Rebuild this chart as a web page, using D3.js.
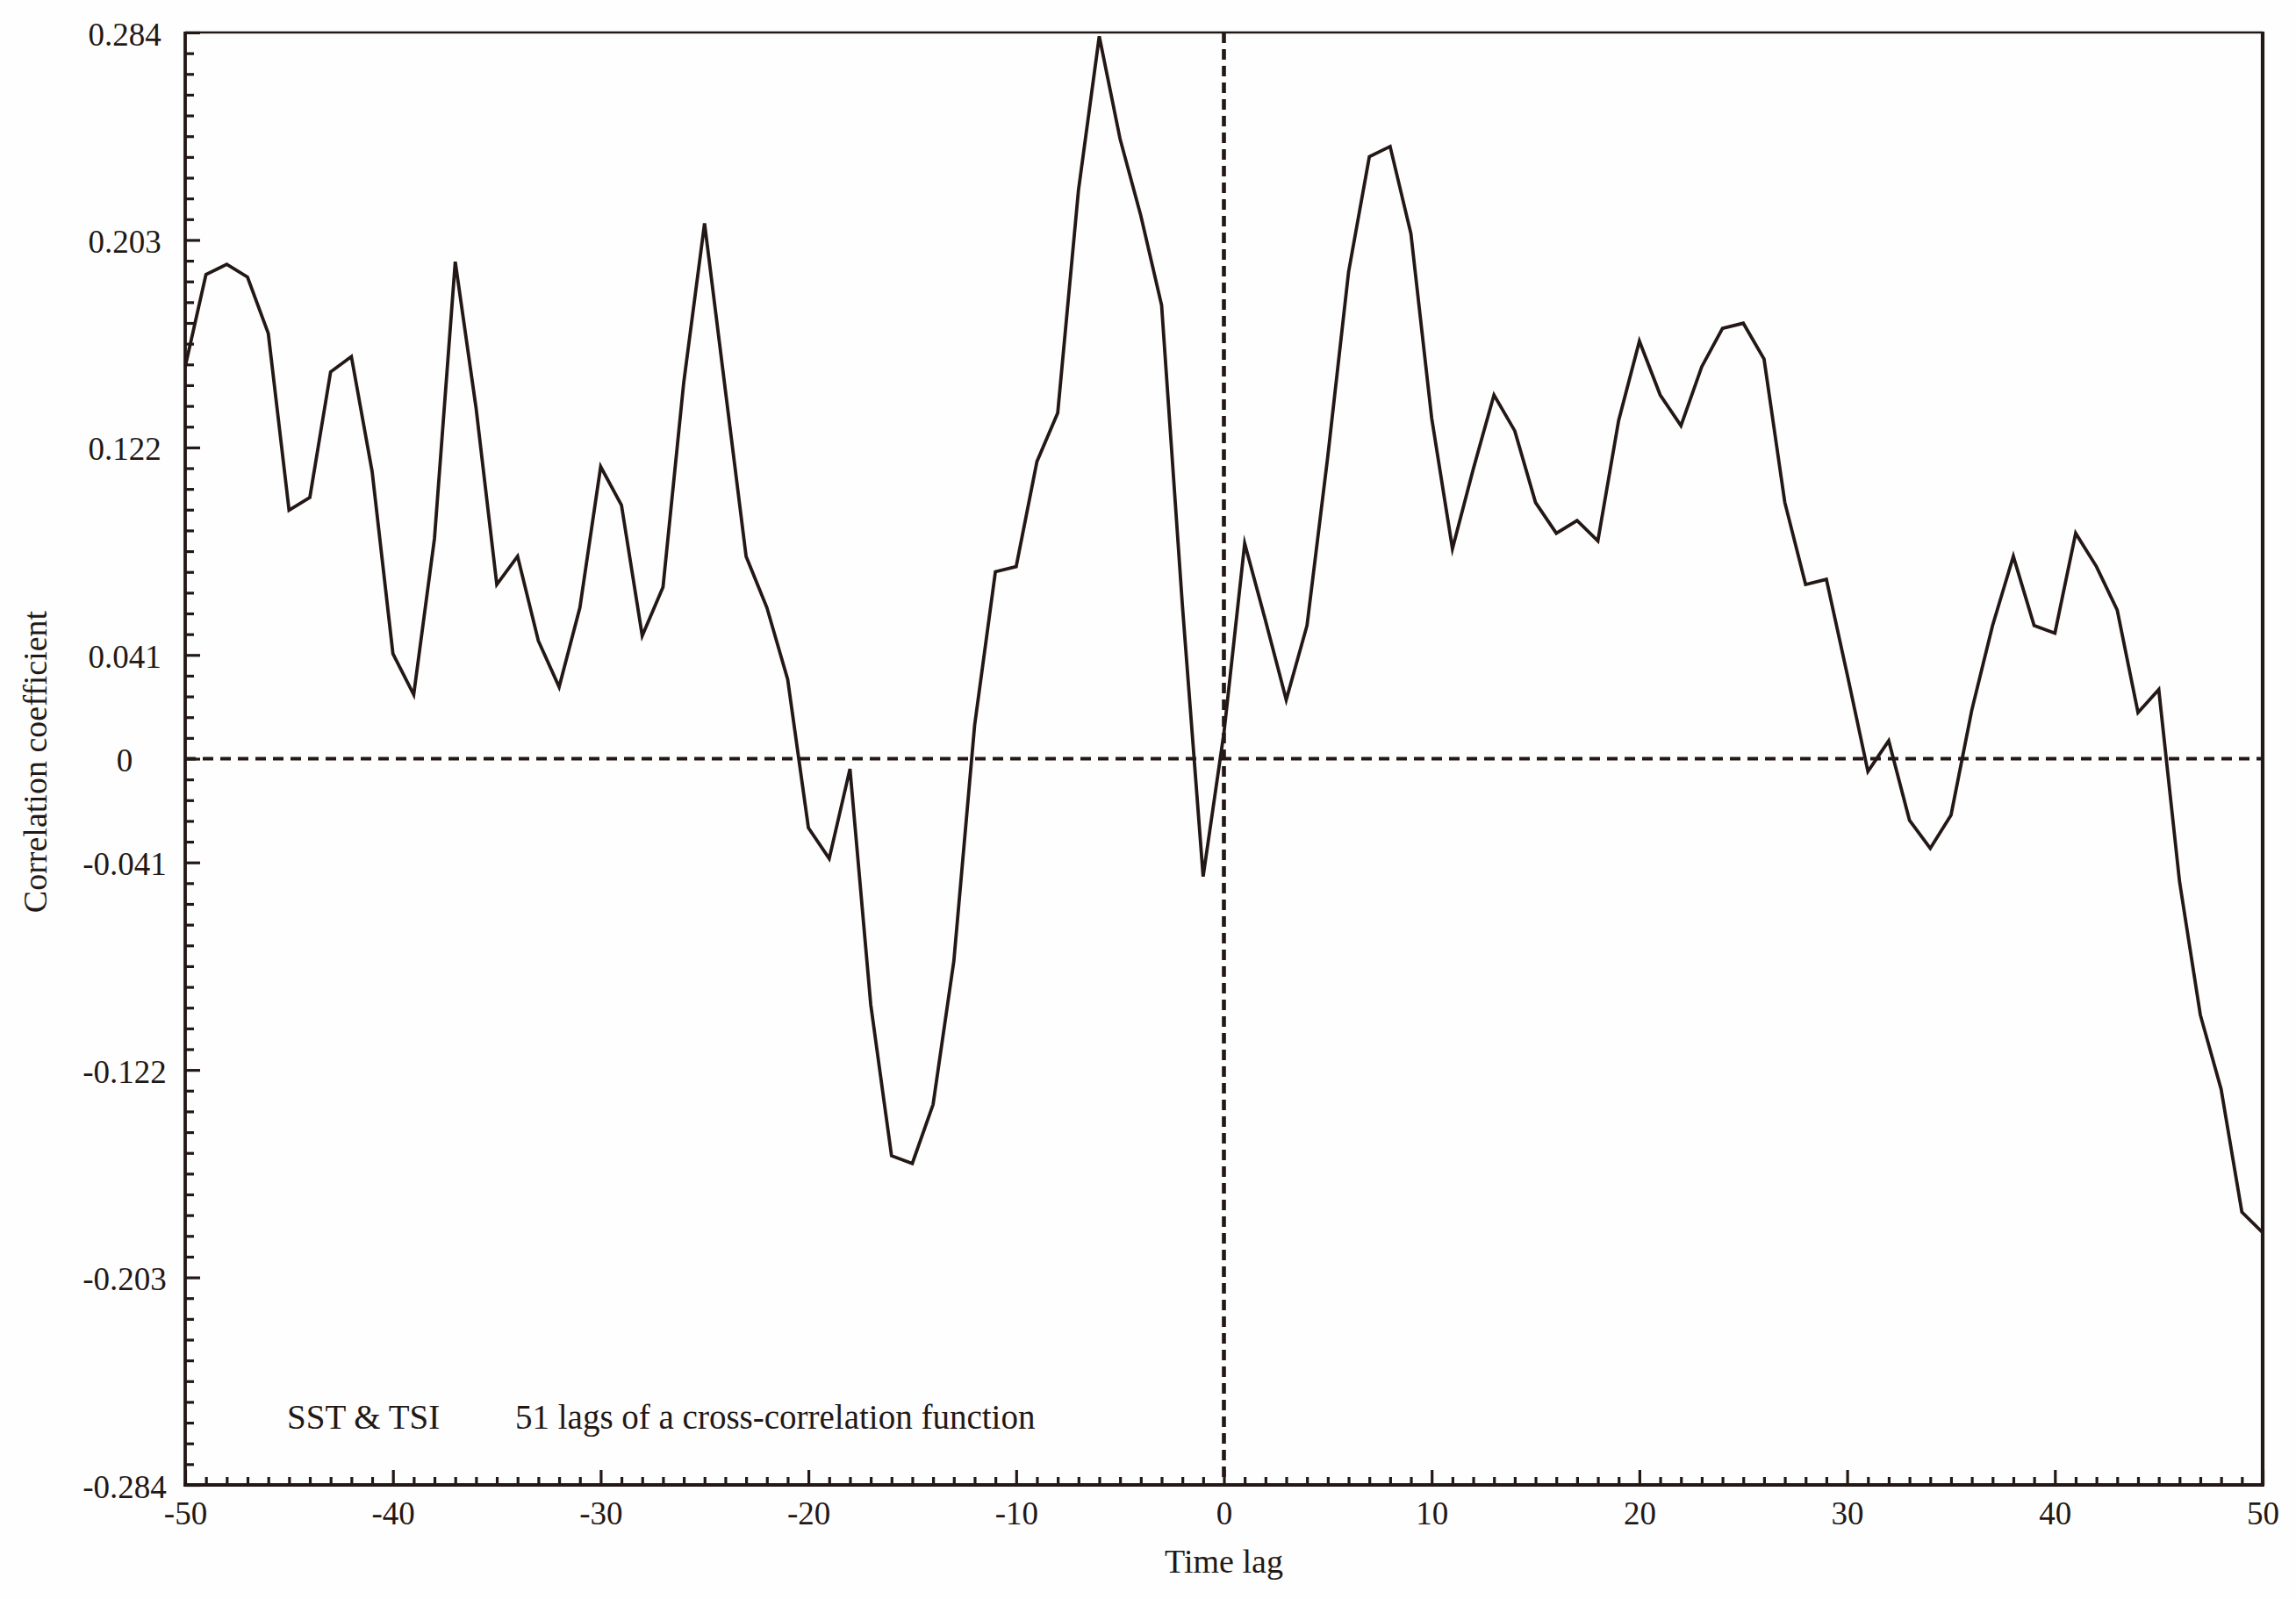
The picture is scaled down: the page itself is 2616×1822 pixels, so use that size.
<!DOCTYPE html>
<html><head><meta charset="utf-8">
<script src="https://cdn.jsdelivr.net/npm/d3@7"></script>
<style>
body{margin:0;background:#fefefe;}
svg{display:block;}
text{font-family:"Liberation Serif","Times New Roman",serif;fill:#231815;}
</style>
</head><body>
<svg id="chart" width="2616" height="1822"></svg>
<script>
// ---- data ----
const lags = d3.range(-50, 51);
const correlation = [
  0.153, 0.189, 0.193, 0.188, 0.166, 0.097, 0.102, 0.151, 0.157, 0.112,
  0.041, 0.025, 0.086, 0.194, 0.137, 0.068, 0.079, 0.046, 0.028, 0.059,
  0.114, 0.099, 0.048, 0.067, 0.147, 0.209, 0.144, 0.079, 0.059, 0.031,
  -0.027, -0.039, -0.004, -0.096, -0.155, -0.158, -0.135, -0.079, 0.013, 0.073,
  0.075, 0.116, 0.135, 0.222, 0.282, 0.242, 0.212, 0.177, 0.060, -0.046,
  0.010, 0.084, 0.054, 0.023, 0.052, 0.118, 0.190, 0.235, 0.239, 0.205,
  0.133, 0.082, 0.113, 0.142, 0.128, 0.100, 0.088, 0.093, 0.085, 0.132,
  0.163, 0.142, 0.130, 0.153, 0.168, 0.170, 0.156, 0.100, 0.068, 0.070,
  0.033, -0.005, 0.007, -0.024, -0.035, -0.022, 0.019, 0.052, 0.079, 0.052,
  0.049, 0.088, 0.075, 0.058, 0.018, 0.027, -0.048, -0.100, -0.129, -0.177,
  -0.185
];
const xTickValues = [-50, -40, -30, -20, -10, 0, 10, 20, 30, 40, 50];
const xTickLabels = ["-50", "-40", "-30", "-20", "-10", "0", "10", "20", "30", "40", "50"];
const yTickValues = [-0.2835, -0.2025, -0.1215, -0.0405, 0, 0.0405, 0.1215, 0.2025, 0.2835];
const yTickLabels = ["-0.284", "-0.203", "-0.122", "-0.041", "0", "0.041", "0.122", "0.203", "0.284"];
const yDomain = [-0.2835, 0.2835];
const yMinorStep = 0.0081;
const xTitle = "Time lag";
const yTitle = "Correlation coefficient";
const noteSeries = "SST & TSI";
const noteDesc = "51 lags of a cross-correlation function";

// ---- layout ----
const ink = "#231815";
const box = {left: 211, right: 2578, top: 37, bottom: 1692};
const svg = d3.select("#chart");
const x = d3.scaleLinear().domain([-50, 50]).range([box.left, box.right]);
const y = d3.scaleLinear().domain(yDomain).range([box.bottom, box.top]);

svg.append("rect").attr("x", 0).attr("y", 0).attr("width", 2616).attr("height", 1822).attr("fill", "#fefefe");

// minor ticks
const yMinor = d3.range(0, 71).map(k => yDomain[0] + k * yMinorStep)
  .filter(v => !yTickValues.some(t => Math.abs(t - v) < 1e-6));
const xMinor = lags.filter(l => l % 10 !== 0);

const yMinorAxis = d3.axisLeft(y).tickValues(yMinor).tickSizeInner(-10).tickSizeOuter(0).tickFormat("");
const gym = svg.append("g").attr("transform", `translate(${box.left},0)`).call(yMinorAxis);
const xMinorAxis = d3.axisBottom(x).tickValues(xMinor).tickSizeInner(-9).tickSizeOuter(0).tickFormat("");
const gxm = svg.append("g").attr("transform", `translate(0,${box.bottom})`).call(xMinorAxis);

// major ticks + labels
const yAxis = d3.axisLeft(y).tickValues(yTickValues).tickSizeInner(-17).tickSizeOuter(0).tickPadding(0)
  .tickFormat((d, i) => yTickLabels[i]);
const gy = svg.append("g").attr("transform", `translate(${box.left},0)`).call(yAxis);
gy.selectAll("text").attr("x", -69).attr("dy", null).attr("y", 14)
  .attr("text-anchor", "middle").style("font-size", "37px");

const xAxis = d3.axisBottom(x).tickValues(xTickValues).tickSizeInner(-17).tickSizeOuter(0).tickPadding(19)
  .tickFormat((d, i) => xTickLabels[i]);
const gx = svg.append("g").attr("transform", `translate(0,${box.bottom})`).call(xAxis);
gx.selectAll("text").style("font-size", "37px");

[gym, gxm, gy, gx].forEach(g => {
  g.select(".domain").remove();
  g.selectAll(".tick line").attr("stroke", ink).attr("stroke-width", 3.2);
  g.selectAll("text").attr("fill", ink).style("font-family", '"Liberation Serif", serif');
});
gy.selectAll(".tick").filter(d => d === 0).select("line").remove();
gy.selectAll(".tick").filter(d => d === 0).append("line")
  .attr("x2", 17).attr("stroke", ink).attr("stroke-width", 3.2);

// reference dashed lines
svg.append("line")
  .attr("x1", x(-50)).attr("x2", x(50)).attr("y1", y(0)).attr("y2", y(0))
  .attr("stroke", ink).attr("stroke-width", 4.2).attr("stroke-dasharray", "12,8");
svg.append("line")
  .attr("x1", x(0)).attr("x2", x(0)).attr("y1", y(yDomain[1])).attr("y2", y(yDomain[0]))
  .attr("stroke", ink).attr("stroke-width", 4.6).attr("stroke-dasharray", "12,7");

// frame
svg.append("line").attr("x1", x(-50)).attr("x2", x(50)).attr("y1", y(yDomain[1])).attr("y2", y(yDomain[1]))
  .attr("stroke", ink).attr("stroke-width", 2.6);
svg.append("line").attr("x1", x(-50) - 2).attr("x2", x(50) + 2).attr("y1", y(yDomain[0])).attr("y2", y(yDomain[0]))
  .attr("stroke", ink).attr("stroke-width", 4.2);
svg.append("line").attr("x1", x(-50)).attr("x2", x(-50)).attr("y1", y(yDomain[1]) - 1).attr("y2", y(yDomain[0]))
  .attr("stroke", ink).attr("stroke-width", 3.8);
svg.append("line").attr("x1", x(50)).attr("x2", x(50)).attr("y1", y(yDomain[1]) - 1).attr("y2", y(yDomain[0]))
  .attr("stroke", ink).attr("stroke-width", 4.2);

// data line
const line = d3.line().x((d, i) => x(lags[i])).y(d => y(d));
svg.append("path").datum(correlation)
  .attr("d", line).attr("fill", "none").attr("stroke", ink)
  .attr("stroke-width", 3.8).attr("stroke-linejoin", "miter").attr("stroke-miterlimit", 6);

// titles
svg.append("text").attr("x", (box.left + box.right) / 2).attr("y", 1792)
  .attr("text-anchor", "middle").style("font-size", "38px").text(xTitle);
svg.append("text").attr("transform", `translate(53,868) rotate(-90)`)
  .attr("text-anchor", "middle").style("font-size", "38px").text(yTitle);

// annotation
svg.append("text").attr("x", 327).attr("y", 1628).style("font-size", "39px").text(noteSeries);
svg.append("text").attr("x", 587).attr("y", 1628).style("font-size", "39px").text(noteDesc);
</script>
</body></html>
